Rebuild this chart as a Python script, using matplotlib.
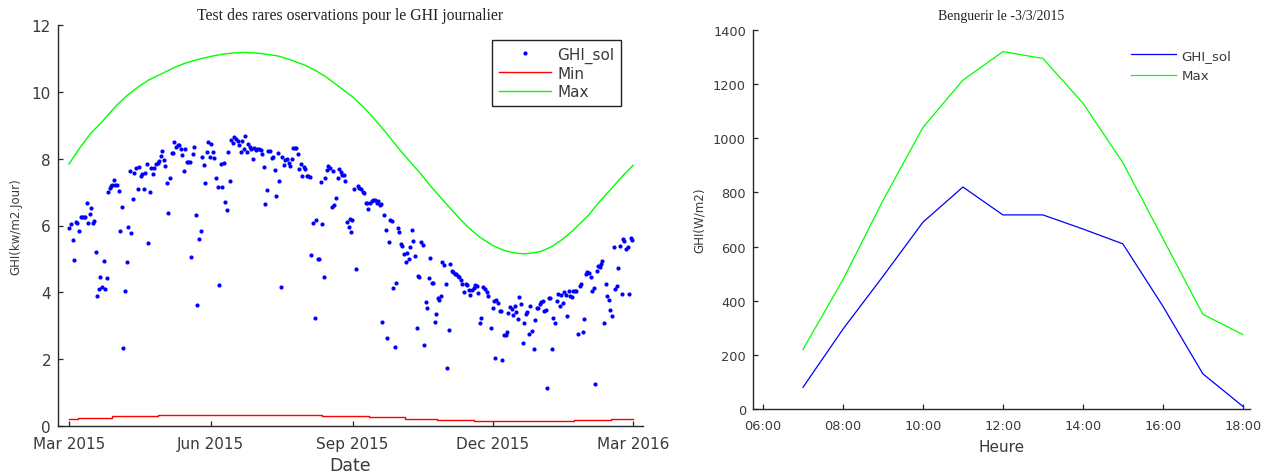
import numpy as np
import pandas as pd
import matplotlib
matplotlib.use("Agg")
import matplotlib.pyplot as plt
import matplotlib.dates as mdates

# ---------------- data ----------------
START = pd.Timestamp("2015-03-01")

# daily ground observations: (days after 1 Mar 2015, kWh/m2/day)
obs_spring = [
    (0.2, 5.94), (1.3, 6.04), (2.4, 5.58), (3.5, 4.98), (4.3, 6.11), (5.4, 6.08), (6.5, 5.83),
    (7.6, 6.24), (8.7, 6.26), (9.7, 6.26), (10.6, 6.26), (11.5, 6.67), (12.5, 6.07), (13.4, 6.34),
    (14.3, 6.53), (15.4, 6.08), (16.4, 6.12), (17.3, 5.22), (18.4, 3.89), (19.5, 4.11), (20.3, 4.47),
    (21.4, 4.16), (22.5, 4.93), (23.4, 4.11), (24.4, 4.43), (25.5, 7.01), (26.4, 7.12), (27.3, 7.19),
    (28.1, 7.22), (29.2, 7.37), (30.1, 7.22), (31.1, 7.20), (32.4, 7.04), (33.3, 5.83), (34.4, 6.55),
    (35.3, 2.34), (36.3, 4.03), (37.4, 4.92), (38.3, 5.97), (39.4, 7.64), (40.5, 5.79), (41.3, 6.79),
    (42.4, 7.56), (43.5, 7.71), (44.6, 7.08), (45.4, 7.74), (46.5, 7.48), (47.4, 7.53), (48.5, 7.08),
    (49.5, 7.58), (50.4, 7.83), (51.3, 5.49), (52.3, 7.00), (53.4, 7.71), (54.5, 7.55), (55.4, 7.71),
    (56.5, 7.84), (57.5, 7.88), (58.4, 7.93), (59.5, 8.09), (60.4, 8.23), (61.4, 7.96), (62.5, 7.78),
    (63.4, 7.27), (64.5, 6.37), (65.5, 7.41), (66.6, 8.17), (67.5, 8.17), (68.4, 8.50), (69.4, 8.34),
    (70.5, 8.41), (71.4, 8.41), (72.5, 8.30), (73.3, 8.12), (74.4, 7.64), (75.5, 8.29), (76.4, 7.90),
    (77.4, 7.90), (78.3, 7.91), (79.4, 5.05), (80.3, 8.15), (81.3, 8.35), (82.4, 6.32), (83.3, 3.62),
    (84.4, 5.61), (85.4, 5.83), (86.3, 8.05), (87.4, 7.81),
]
obs_summer = [
    (88.3, 7.26), (89.3, 8.21), (90.4, 8.50), (91.5, 8.04), (92.2, 8.45), (93.4, 8.21), (94.3, 8.01),
    (95.4, 7.43), (96.5, 7.15), (97.3, 4.21), (98.4, 7.84), (99.5, 7.15), (100.4, 7.87), (101.5, 6.70),
    (102.3, 6.46), (103.4, 8.20), (104.3, 7.33), (105.3, 8.57), (106.4, 8.46), (107.3, 8.65),
    (108.4, 8.60), (109.4, 8.54), (110.3, 8.42), (111.4, 8.20), (112.5, 8.54), (113.4, 8.30),
    (114.4, 8.67), (115.3, 8.20), (116.4, 8.44), (117.2, 8.34), (118.3, 8.30), (119.4, 7.99),
    (120.3, 8.32), (121.3, 8.26), (122.2, 8.28), (123.3, 8.29), (124.4, 8.25), (125.2, 8.15),
    (126.3, 7.76), (127.4, 6.63), (128.3, 7.07), (129.3, 8.23), (130.4, 8.22), (131.5, 8.01),
    (132.4, 8.04), (133.5, 7.66), (134.3, 6.89), (135.4, 8.16), (136.3, 7.32), (137.4, 4.17),
    (138.4, 8.06), (139.5, 7.80), (140.4, 7.97), (141.5, 7.98), (142.5, 7.86), (143.4, 7.79),
    (144.5, 8.00), (145.4, 8.33), (146.4, 8.31), (147.5, 8.31), (148.4, 8.14), (149.5, 7.68),
    (150.3, 7.85), (151.4, 7.47), (152.5, 7.74), (153.4, 7.70), (154.4, 7.49), (155.3, 7.49),
    (156.4, 7.44), (157.3, 5.13), (158.4, 6.08), (159.4, 3.22), (160.3, 6.17), (161.4, 5.01),
    (162.4, 5.01), (163.3, 7.31), (164.4, 6.04), (165.3, 4.45), (166.3, 7.42), (167.4, 7.66),
    (168.3, 7.77), (169.4, 7.71), (170.4, 6.56), (171.5, 7.64), (172.3, 6.62), (173.4, 6.82),
    (174.3, 7.42), (175.4, 7.70), (176.4, 7.61), (177.3, 7.52), (178.4, 7.52), (179.3, 7.33),
    (180.4, 6.11), (181.5, 5.97),
]
obs_autumn = [
    (182.3, 6.19), (183.0, 5.82), (183.9, 6.17), (184.9, 7.09), (186.2, 4.70), (187.3, 7.17),
    (188.4, 7.12), (189.5, 7.08), (190.6, 7.01), (191.7, 6.97), (192.7, 6.66), (193.6, 6.66),
    (194.3, 6.49), (195.3, 6.66), (196.4, 6.73), (197.5, 6.76), (198.6, 6.76), (199.7, 6.66),
    (200.7, 6.72), (201.8, 6.61), (202.5, 6.64), (203.4, 3.11), (204.4, 6.32), (205.5, 5.86),
    (206.4, 2.62), (207.5, 5.50), (208.4, 6.17), (209.4, 6.14), (210.5, 4.13), (211.6, 2.35),
    (212.4, 4.27), (213.5, 5.94), (214.4, 5.80), (215.5, 5.46), (216.3, 5.40), (217.4, 5.14),
    (218.5, 4.92), (219.4, 5.17), (220.5, 5.00), (221.5, 5.36), (222.4, 5.86), (223.5, 5.55),
    (224.5, 5.09), (225.6, 2.93), (226.5, 4.50), (227.4, 4.46), (228.4, 5.52), (229.5, 5.42),
    (230.4, 2.43), (231.5, 3.70), (232.3, 3.52), (233.4, 4.44), (234.5, 5.03), (235.4, 4.27),
    (236.5, 4.27), (237.3, 3.11), (238.4, 3.34), (239.5, 3.83), (240.3, 3.78), (241.4, 3.90),
    (242.3, 4.92), (243.4, 4.81), (244.4, 4.26), (245.3, 1.75), (246.4, 2.86), (247.5, 4.85),
    (248.6, 4.65), (249.2, 4.60), (250.3, 4.55), (251.2, 4.54), (252.3, 4.50), (253.3, 4.47),
    (254.2, 4.37), (255.3, 4.25), (256.4, 4.00), (257.4, 4.25), (258.5, 4.23), (259.4, 4.07),
    (260.5, 3.93), (261.5, 4.08), (262.6, 4.13), (263.7, 4.21), (264.6, 4.19), (265.6, 3.99),
    (266.5, 3.09), (267.6, 3.23), (268.5, 4.15), (269.9, 4.09), (271.2, 4.02), (272.1, 3.89),
    (273.6, 2.93), (274.9, 3.53), (275.6, 3.75),
]
obs_winter = [
    (276.4, 2.02), (277.3, 3.77), (278.2, 3.67), (279.5, 3.43), (280.3, 3.45), (281.2, 1.98),
    (282.3, 2.71), (283.4, 2.73), (284.2, 2.81), (285.1, 3.39), (286.2, 3.55), (287.3, 3.49),
    (288.3, 3.32), (289.4, 3.58), (290.3, 3.41), (291.4, 3.21), (292.2, 3.85), (293.3, 3.64),
    (294.4, 2.48), (295.5, 3.07), (296.6, 3.35), (297.4, 3.40), (298.3, 2.75), (299.4, 3.58),
    (300.2, 2.83), (301.5, 2.31), (302.4, 3.18), (303.5, 3.53), (304.6, 3.54), (305.4, 3.65),
    (306.5, 3.70), (307.4, 3.73), (308.5, 3.43), (309.3, 3.48), (310.4, 1.13), (311.5, 3.84),
    (312.3, 3.84), (313.4, 2.31), (314.3, 3.24), (315.4, 3.09), (316.5, 3.75), (317.3, 3.95),
    (318.4, 3.60), (319.3, 3.92), (320.4, 3.68), (321.2, 4.01), (322.3, 3.91), (323.2, 3.29),
    (324.2, 4.03), (325.3, 3.90), (326.2, 3.85), (327.3, 4.05), (328.2, 4.05), (329.2, 4.05),
    (330.3, 2.74), (331.4, 4.19), (332.3, 4.25), (333.5, 2.81), (334.4, 3.21), (335.5, 4.55),
    (336.4, 4.60), (337.4, 4.57), (338.5, 4.45), (339.6, 4.05), (340.5, 4.13), (341.4, 1.26),
    (342.4, 4.65), (343.5, 4.80), (344.3, 4.75), (345.2, 4.85), (346.1, 4.94), (347.4, 3.07),
    (348.5, 4.24), (349.4, 3.90), (350.3, 3.77), (351.4, 3.46), (352.5, 3.30), (353.6, 5.36),
    (354.4, 4.10), (355.5, 4.20), (356.6, 4.73), (357.7, 5.39), (358.6, 3.96), (359.4, 5.61),
    (360.3, 5.54), (361.6, 5.29), (362.8, 5.37), (363.6, 3.96), (364.4, 5.64), (365.5, 5.58),
]

# theoretical max (clear sky) daily GHI, read weekly-ish off the curve
max_dates = ["2015-03-01", "2015-03-08", "2015-03-15", "2015-03-22", "2015-04-01", "2015-04-08",
             "2015-04-15", "2015-04-22", "2015-05-01", "2015-05-08", "2015-05-15", "2015-05-22",
             "2015-06-01", "2015-06-08", "2015-06-15", "2015-06-22", "2015-07-01", "2015-07-08",
             "2015-07-15", "2015-07-22", "2015-08-01", "2015-08-08", "2015-08-15", "2015-08-22",
             "2015-09-01", "2015-09-08", "2015-09-15", "2015-09-22", "2015-10-01", "2015-10-08",
             "2015-10-15", "2015-10-22", "2015-11-01", "2015-11-08", "2015-11-15", "2015-11-22",
             "2015-12-01", "2015-12-08", "2015-12-15", "2015-12-22", "2016-01-01", "2016-01-08",
             "2016-01-15", "2016-01-22", "2016-02-01", "2016-02-08", "2016-02-15", "2016-02-22",
             "2016-03-01"]
max_vals = [7.84, 8.32, 8.75, 9.08, 9.60, 9.90, 10.15, 10.36, 10.56, 10.72, 10.85, 10.95,
            11.06, 11.12, 11.16, 11.18, 11.16, 11.12, 11.07, 10.97, 10.80, 10.64, 10.44, 10.20,
            9.85, 9.55, 9.20, 8.82, 8.30, 7.93, 7.56, 7.16, 6.64, 6.28, 5.95, 5.67, 5.40, 5.26,
            5.18, 5.15, 5.22, 5.36, 5.58, 5.85, 6.30, 6.70, 7.05, 7.42, 7.80]

# theoretical min daily GHI (step-wise)
min_dates = ["2015-03-01", "2015-03-07", "2015-03-29", "2015-04-28", "2015-08-12", "2015-09-12",
             "2015-10-05", "2015-10-26", "2015-11-19", "2016-01-23", "2016-02-16", "2016-03-01"]
min_vals = [0.21, 0.25, 0.29, 0.34, 0.31, 0.26, 0.22, 0.19, 0.15, 0.19, 0.22, 0.22]

# hourly values, Benguerir 3/3/2015
hours = [7, 8, 9, 10, 11, 12, 13, 14, 15, 16, 17, 18]
ghi_sol_hourly = [80, 295, 490, 690, 820, 717, 717, 665, 610, 380, 130, 10]
ghi_max_hourly = [220, 478, 770, 1040, 1215, 1320, 1295, 1130, 910, 630, 350, 275]

# ---------------- style ----------------
plt.rcParams["font.family"] = ["DejaVu Sans"]
TXT = "#3a3a3a"
AXC = "#262626"
BLUE, RED, GREEN = "#0000ff", "#ff0000", "#00ff00"

fig = plt.figure(figsize=(12.72, 4.77), dpi=100)
W, H = 1272.0, 477.0


def frac_axes(l, t, r, b):
    return [l / W, 1 - b / H, (r - l) / W, (b - t) / H]


def style_axes(ax, size):
    for s in ("top", "right"):
        ax.spines[s].set_visible(False)
    for s in ("left", "bottom"):
        ax.spines[s].set_color(AXC)
        ax.spines[s].set_linewidth(1.0)
    ax.tick_params(direction="in", length=3.5, width=0.9, colors=AXC,
                   labelcolor=TXT, labelsize=size)


# ---------------- left panel ----------------
ax1 = fig.add_axes(frac_axes(58, 26, 643, 427))
style_axes(ax1, 11)

obs = obs_spring + obs_summer + obs_autumn + obs_winter
obs_dates = [START + pd.Timedelta(days=d) for d, _ in obs]
obs_vals = [v for _, v in obs]

ax1.plot(obs_dates, obs_vals, linestyle="none", marker="o", ms=3.0, mew=0,
         color=BLUE, label="GHI_sol")
ax1.plot(pd.to_datetime(min_dates), min_vals, drawstyle="steps-post", color=RED,
         lw=1.0, label="Min")
ax1.plot(pd.to_datetime(max_dates), max_vals, color=GREEN, lw=1.0, label="Max")

ax1.set_ylim(0, 12)
ax1.set_yticks(range(0, 13, 2))
ax1.set_xlim(START - pd.Timedelta(days=7.1), START + pd.Timedelta(days=372.5))
ax1.xaxis.set_major_locator(mdates.MonthLocator(bymonth=[3, 6, 9, 12]))
ax1.xaxis.set_major_formatter(mdates.DateFormatter("%b %Y"))
ax1.tick_params(axis="x", pad=7.5)
ax1.tick_params(axis="y", pad=5)
ax1.set_xlabel("Date", fontsize=12.5, color=TXT, labelpad=3)
ax1.set_ylabel("GHI(kw/m2.Jour)", fontsize=8.5, color=TXT)
ax1.yaxis.set_label_coords(-0.0615, 0.5)
ax1.set_title("Test des rares oservations pour le GHI journalier",
              family="Liberation Serif", fontsize=11.3, color="#222222", pad=4)

leg1 = ax1.legend(loc="upper left", bbox_to_anchor=(491.7 / W, 1 - 40.7 / H),
                  bbox_transform=fig.transFigure, borderaxespad=0, fontsize=11,
                  frameon=True, fancybox=False, framealpha=1, edgecolor="#222222",
                  handlelength=3.4, handletextpad=0.45, labelspacing=0.2,
                  borderpad=0.45, numpoints=1, markerscale=1.0)
leg1.get_frame().set_linewidth(1.0)
for t in leg1.get_texts():
    t.set_color(TXT)

# ---------------- right panel ----------------
ax2 = fig.add_axes(frac_axes(753, 31, 1250, 410))
style_axes(ax2, 9.3)
DAY = pd.Timestamp("2015-03-03")
times = [DAY + pd.Timedelta(hours=h) for h in hours]
ax2.plot(times, ghi_sol_hourly, color=BLUE, lw=0.9, label="GHI_sol")
ax2.plot(times, ghi_max_hourly, color=GREEN, lw=0.9, label="Max")
ax2.set_ylim(0, 1400)
ax2.set_yticks(range(0, 1401, 200))
ax2.set_xlim(DAY + pd.Timedelta(hours=5.75), DAY + pd.Timedelta(hours=18.18))
ax2.xaxis.set_major_locator(mdates.HourLocator(byhour=range(6, 19, 2)))
ax2.xaxis.set_major_formatter(mdates.DateFormatter("%H:%M"))
ax2.tick_params(axis="x", pad=7)
ax2.tick_params(axis="y", pad=5)
ax2.set_xlabel("Heure", fontsize=11, color=TXT, labelpad=5)
ax2.set_ylabel("GHI(W/m2)", fontsize=8.6, color=TXT)
ax2.yaxis.set_label_coords(-0.0946, 0.5)
ax2.set_title("Benguerir le -3/3/2015", family="Liberation Serif", fontsize=10,
              color="#222222", pad=8)
leg2 = ax2.legend(loc="upper left", bbox_to_anchor=(1131 / W, 1 - 50 / H),
                  bbox_transform=fig.transFigure, borderaxespad=0, borderpad=0,
                  fontsize=9.6, frameon=False, handlelength=3.4, handletextpad=0.4,
                  labelspacing=0.55)
for t in leg2.get_texts():
    t.set_color(TXT)

fig.savefig("out.png", dpi=100)
